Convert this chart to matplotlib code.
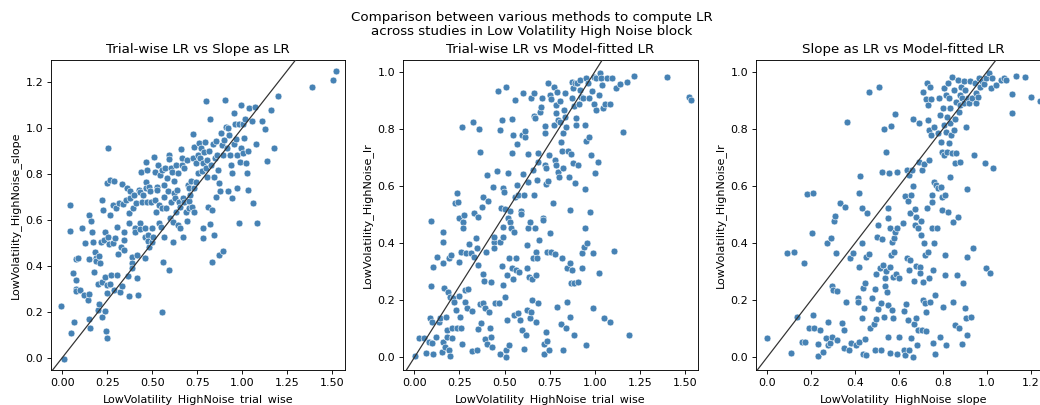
import matplotlib
matplotlib.use("Agg")
import matplotlib.pyplot as plt

# --- data ---
# panel 1: trial-wise LR (x) vs slope as LR (y)
p1_trial_wise = [
    -0.01, 0.007, 0.04, 0.045, 0.05, 0.063, 0.06, 0.074, 0.087, 0.078, 0.078, 0.078, 0.10, 0.11, 0.124,
    0.122, 0.14, 0.148, 0.148, 0.146, 0.156, 0.15, 0.16, 0.163, 0.17, 0.178, 0.183, 0.189, 0.19, 0.196,
    0.196, 0.205, 0.204, 0.211, 0.218, 0.217, 0.22, 0.24, 0.233, 0.228, 0.222, 0.237, 0.24, 0.244, 0.246,
    0.248, 0.248, 0.255, 0.25, 0.254, 0.263, 0.263, 0.261, 0.267, 0.27, 0.285, 0.281, 0.281, 0.285, 0.294,
    0.298, 0.306, 0.304, 0.307, 0.315, 0.318, 0.328, 0.331, 0.333, 0.337, 0.341, 0.344, 0.344, 0.356, 0.36,
    0.365, 0.369, 0.37, 0.37, 0.374, 0.378, 0.385, 0.389, 0.39, 0.393, 0.396, 0.402, 0.406, 0.409, 0.415,
    0.415, 0.419, 0.426, 0.43, 0.43, 0.433, 0.437, 0.443, 0.448, 0.457, 0.459, 0.461, 0.463, 0.467, 0.47,
    0.467, 0.47, 0.474, 0.476, 0.48, 0.483, 0.489, 0.493, 0.496, 0.5, 0.504, 0.511, 0.513, 0.517, 0.52,
    0.524, 0.526, 0.53, 0.535, 0.539, 0.541, 0.546, 0.552, 0.554, 0.556, 0.559, 0.563, 0.565, 0.567, 0.572,
    0.576, 0.581, 0.587, 0.591, 0.594, 0.596, 0.60, 0.604, 0.607, 0.611, 0.615, 0.615, 0.619, 0.622, 0.626,
    0.63, 0.633, 0.637, 0.641, 0.646, 0.648, 0.652, 0.656, 0.659, 0.663, 0.667, 0.669, 0.672, 0.674, 0.678,
    0.685, 0.693, 0.696, 0.698, 0.702, 0.704, 0.707, 0.711, 0.715, 0.719, 0.724, 0.726, 0.73, 0.733, 0.735,
    0.741, 0.744, 0.752, 0.756, 0.761, 0.767, 0.77, 0.776, 0.78, 0.781, 0.785, 0.789, 0.794, 0.798, 0.798,
    0.804, 0.807, 0.811, 0.815, 0.819, 0.822, 0.826, 0.83, 0.833, 0.837, 0.841, 0.844, 0.848, 0.852, 0.856,
    0.859, 0.863, 0.869, 0.874, 0.878, 0.881, 0.887, 0.891, 0.896, 0.90, 0.904, 0.909, 0.915, 0.919, 0.924,
    0.928, 0.933, 0.937, 0.943, 0.946, 0.952, 0.956, 0.961, 0.965, 0.97, 0.974, 0.98, 0.983, 0.989, 0.993,
    0.996, 1.004, 1.007, 1.011, 1.017, 1.022, 1.026, 1.03, 1.033, 1.037, 1.054, 1.063, 1.072, 1.078, 1.085,
    1.109, 1.128, 1.137, 1.159, 1.178, 1.202, 1.391, 1.507, 1.52,
]
p1_slope = [
    0.227, -0.006, 0.663, 0.553, 0.106, 0.157, 0.368, 0.43, 0.433, 0.339, 0.30, 0.29, 0.295, 0.564, 0.498,
    0.273, 0.25, 0.43, 0.277, 0.167, 0.128, 0.62, 0.597, 0.549, 0.505, 0.375, 0.46, 0.433, 0.42, 0.32,
    0.208, 0.232, 0.443, 0.411, 0.179, 0.505, 0.331, 0.203, 0.513, 0.644, 0.686, 0.549, 0.353, 0.116, 0.087,
    0.763, 0.28, 0.915, 0.317, 0.527, 0.772, 0.622, 0.494, 0.32, 0.36, 0.77, 0.663, 0.498, 0.295, 0.52,
    0.651, 0.571, 0.36, 0.45, 0.673, 0.288, 0.483, 0.755, 0.31, 0.67, 0.549, 0.513, 0.469, 0.687, 0.738,
    0.357, 0.629, 0.586, 0.27, 0.695, 0.726, 0.44, 0.411, 0.389, 0.651, 0.709, 0.564, 0.549, 0.673, 0.349,
    0.447, 0.273, 0.731, 0.721, 0.586, 0.561, 0.811, 0.68, 0.709, 0.433, 0.564, 0.527, 0.767, 0.854, 0.818,
    0.741, 0.68, 0.535, 0.508, 0.484, 0.745, 0.724, 0.68, 0.505, 0.567, 0.527, 0.876, 0.808, 0.686, 0.636,
    0.745, 0.731, 0.84, 0.586, 0.663, 0.796, 0.569, 0.818, 0.654, 0.20, 0.418, 0.527, 0.752, 0.702, 0.826,
    0.651, 0.781, 0.724, 0.883, 0.382, 0.866, 0.607, 0.68, 0.826, 0.811, 0.593, 0.505, 0.718, 0.77, 0.697,
    0.84, 0.636, 0.729, 0.803, 0.578, 0.68, 0.658, 0.564, 0.909, 0.84, 0.869, 0.694, 0.524, 0.826, 0.68,
    0.636, 0.862, 0.596, 0.752, 0.738, 0.684, 0.654, 0.709, 0.77, 0.658, 0.973, 0.869, 0.636, 0.738, 0.92,
    0.847, 0.767, 0.883, 0.803, 0.937, 0.872, 0.912, 0.814, 0.564, 0.523, 0.847, 0.898, 0.941, 0.826, 1.12,
    0.789, 0.862, 0.658, 0.90, 1.04, 0.581, 0.84, 0.644, 0.418, 0.93, 0.535, 0.789, 0.869, 0.702, 0.944,
    0.883, 0.818, 0.447, 0.76, 0.724, 0.978, 0.927, 0.465, 0.883, 0.949, 1.123, 1.007, 0.913, 0.726, 1.002,
    0.97, 0.883, 0.84, 0.803, 0.694, 1.065, 0.93, 1.016, 0.953, 0.738, 0.883, 1.016, 0.586, 0.854, 0.913,
    1.101, 1.016, 0.891, 0.956, 1.042, 0.847, 0.803, 0.731, 0.902, 1.087, 1.029, 0.673, 1.094, 0.93, 0.586,
    1.029, 0.997, 0.857, 1.079, 0.913, 1.138, 1.18, 1.209, 1.247,
]

# panel 2: trial-wise LR (x) vs model-fitted LR (y)
p2_trial_wise = [
    0.004, 0.024, 0.056, 0.065, 0.08, 0.087, 0.093, 0.094, 0.098, 0.098, 0.102, 0.106, 0.12, 0.124, 0.135,
    0.143, 0.154, 0.157, 0.159, 0.159, 0.161, 0.167, 0.17, 0.176, 0.18, 0.181, 0.187, 0.194, 0.194, 0.196,
    0.20, 0.204, 0.207, 0.209, 0.213, 0.222, 0.224, 0.231, 0.235, 0.237, 0.241, 0.246, 0.25, 0.25, 0.254,
    0.256, 0.259, 0.263, 0.265, 0.269, 0.272, 0.274, 0.28, 0.281, 0.287, 0.291, 0.298, 0.302, 0.315, 0.317,
    0.319, 0.324, 0.328, 0.333, 0.339, 0.346, 0.346, 0.35, 0.352, 0.354, 0.356, 0.361, 0.365, 0.372, 0.376,
    0.38, 0.381, 0.383, 0.385, 0.389, 0.393, 0.398, 0.40, 0.402, 0.407, 0.411, 0.417, 0.424, 0.426, 0.431,
    0.435, 0.439, 0.441, 0.443, 0.448, 0.457, 0.463, 0.467, 0.472, 0.476, 0.476, 0.48, 0.483, 0.487, 0.489,
    0.491, 0.493, 0.494, 0.498, 0.50, 0.502, 0.506, 0.507, 0.509, 0.511, 0.513, 0.519, 0.52, 0.522, 0.524,
    0.528, 0.531, 0.535, 0.539, 0.541, 0.543, 0.544, 0.546, 0.55, 0.552, 0.556, 0.557, 0.561, 0.565, 0.567,
    0.569, 0.572, 0.576, 0.58, 0.583, 0.589, 0.593, 0.594, 0.598, 0.602, 0.604, 0.606, 0.609, 0.611, 0.615,
    0.62, 0.622, 0.624, 0.626, 0.628, 0.63, 0.631, 0.635, 0.639, 0.643, 0.646, 0.648, 0.65, 0.654, 0.657,
    0.659, 0.661, 0.663, 0.665, 0.667, 0.669, 0.672, 0.674, 0.676, 0.678, 0.681, 0.683, 0.685, 0.687, 0.689,
    0.694, 0.704, 0.709, 0.713, 0.715, 0.717, 0.719, 0.722, 0.724, 0.726, 0.728, 0.73, 0.731, 0.735, 0.737,
    0.739, 0.741, 0.744, 0.746, 0.75, 0.754, 0.757, 0.759, 0.769, 0.772, 0.776, 0.78, 0.781, 0.783, 0.785,
    0.787, 0.789, 0.793, 0.794, 0.796, 0.80, 0.806, 0.809, 0.811, 0.813, 0.817, 0.82, 0.822, 0.824, 0.826,
    0.83, 0.833, 0.837, 0.839, 0.843, 0.846, 0.848, 0.852, 0.857, 0.861, 0.863, 0.865, 0.867, 0.87, 0.872,
    0.874, 0.876, 0.878, 0.88, 0.883, 0.885, 0.887, 0.891, 0.893, 0.896, 0.898, 0.902, 0.906, 0.909, 0.913,
    0.917, 0.92, 0.924, 0.928, 0.931, 0.935, 0.939, 0.943, 0.944, 0.948, 0.95, 0.952, 0.954, 0.957, 0.963,
    0.967, 0.97, 0.976, 0.981, 0.985, 0.989, 0.991, 0.994, 0.998, 1.002, 1.004, 1.009, 1.015, 1.022, 1.026,
    1.03, 1.035, 1.041, 1.044, 1.05, 1.056, 1.065, 1.083, 1.087, 1.093, 1.106, 1.12, 1.139, 1.157, 1.18,
    1.191, 1.219, 1.402, 1.524, 1.533,
]
p2_lr = [
    0.005, 0.067, 0.069, 0.014, 0.053, 0.137, 0.478, 0.251, 0.125, 0.049, 0.317, 0.011, 0.072, 0.352, 0.125,
    0.137, 0.02, 0.053, 0.44, 0.405, 0.329, 0.242, 0.037, 0.142, 0.096, 0.072, 0.23, 0.349, 0.026, 0.21,
    0.006, 0.358, 0.102, 0.067, 0.207, 0.195, 0.541, 0.166, 0.574, 0.104, 0.545, 0.335, 0.487, 0.216, 0.142,
    0.37, 0.102, 0.805, 0.046, 0.473, 0.454, 0.498, 0.236, 0.195, 0.364, 0.172, 0.238, 0.396, 0.364, 0.163,
    0.022, 0.825, 0.352, 0.504, 0.417, 0.384, 0.026, 0.492, 0.323, 0.098, 0.80, 0.72, 0.186, 0.119, 0.525,
    0.562, 0.191, 0.292, 0.267, 0.064, 0.172, 0.368, 0.638, 0.046, 0.548, 0.16, 0.104, 0.265, 0.072, 0.037,
    0.597, 0.405, 0.422, 0.384, 0.189, 0.654, 0.932, 0.189, 0.405, 0.796, 0.011, 0.524, 0.831, 0.321, 0.592,
    0.253, 0.457, 0.422, 0.578, 0.21, 0.518, 0.026, 0.002, 0.947, 0.131, 0.288, 0.487, 0.644, 0.347, 0.043,
    0.475, 0.512, 0.452, 0.833, 0.716, 0.314, 0.274, 0.778, 0.44, 0.148, 0.562, 0.90, 0.347, 0.306, 0.746,
    0.603, 0.568, 0.154, 0.30, 0.131, 0.513, 0.501, 0.096, 0.778, 0.642, 0.924, 0.568, 0.029, 0.77, 0.792,
    0.078, 0.393, 0.166, 0.312, 0.454, 0.615, 0.711, 0.282, 0.137, 0.475, 0.909, 0.16, 0.201, 0.274, 0.347,
    0.656, 0.846, 0.568, 0.924, 0.838, 0.452, 0.37, 0.125, 0.288, 0.347, 0.621, 0.683, 0.714, 0.189, 0.411,
    0.86, 0.877, 0.907, 0.489, 0.48, 0.046, 0.012, 0.784, 0.811, 0.673, 0.662, 0.606, 0.09, 0.37, 0.057,
    0.617, 0.959, 0.708, 0.026, 0.917, 0.434, 0.905, 0.37, 0.539, 0.947, 0.813, 0.361, 0.691, 0.854, 0.673,
    0.883, 0.177, 0.93, 0.65, 0.831, 0.632, 0.825, 0.897, 0.753, 0.116, 0.722, 0.347, 0.026, 0.786, 0.664,
    0.866, 0.924, 0.843, 0.807, 0.102, 0.312, 0.195, 0.722, 0.632, 0.516, 0.142, 0.329, 0.259, 0.711, 0.306,
    0.965, 0.909, 0.679, 0.942, 0.881, 0.08, 0.259, 0.609, 0.959, 0.813, 0.837, 0.959, 0.265, 0.673, 0.886,
    0.971, 0.935, 0.912, 0.312, 0.364, 0.907, 0.387, 0.813, 0.589, 0.454, 0.043, 0.757, 0.979, 0.399, 0.959,
    0.907, 0.772, 0.51, 0.708, 0.932, 0.364, 0.172, 0.982, 0.886, 0.644, 0.866, 0.979, 0.685, 0.918, 0.294,
    0.994, 0.977, 0.953, 0.872, 0.137, 0.886, 0.979, 0.886, 0.125, 0.979, 0.372, 0.942, 0.956, 0.79, 0.963,
    0.078, 0.986, 0.982, 0.912, 0.901,
]

# panel 3: slope as LR (x) vs model-fitted LR (y)
p3_slope = [
    0.0, 0.091, 0.111, 0.124, 0.136, 0.159, 0.17, 0.174, 0.182, 0.189, 0.205, 0.208, 0.209, 0.212, 0.23,
    0.232, 0.242, 0.255, 0.27, 0.273, 0.276, 0.277, 0.285, 0.291, 0.295, 0.295, 0.30, 0.306, 0.308, 0.312,
    0.318, 0.318, 0.333, 0.341, 0.348, 0.352, 0.356, 0.361, 0.364, 0.371, 0.376, 0.382, 0.391, 0.406, 0.412,
    0.414, 0.417, 0.417, 0.42, 0.421, 0.43, 0.433, 0.433, 0.436, 0.436, 0.441, 0.444, 0.447, 0.45, 0.452,
    0.456, 0.464, 0.467, 0.465, 0.479, 0.485, 0.489, 0.492, 0.495, 0.497, 0.50, 0.503, 0.506, 0.509, 0.512,
    0.518, 0.52, 0.523, 0.524, 0.527, 0.53, 0.533, 0.535, 0.538, 0.539, 0.542, 0.545, 0.548, 0.548, 0.55,
    0.552, 0.555, 0.558, 0.559, 0.561, 0.562, 0.564, 0.567, 0.568, 0.571, 0.574, 0.576, 0.579, 0.582, 0.583,
    0.586, 0.589, 0.591, 0.592, 0.598, 0.602, 0.618, 0.621, 0.623, 0.626, 0.629, 0.632, 0.635, 0.638, 0.639,
    0.642, 0.644, 0.645, 0.647, 0.648, 0.652, 0.653, 0.655, 0.658, 0.662, 0.664, 0.665, 0.667, 0.668, 0.671,
    0.674, 0.676, 0.677, 0.679, 0.682, 0.685, 0.686, 0.689, 0.691, 0.694, 0.697, 0.70, 0.702, 0.705, 0.706,
    0.708, 0.709, 0.711, 0.712, 0.715, 0.717, 0.72, 0.721, 0.723, 0.724, 0.726, 0.727, 0.73, 0.732, 0.733,
    0.735, 0.736, 0.738, 0.739, 0.742, 0.745, 0.747, 0.748, 0.75, 0.752, 0.753, 0.755, 0.758, 0.759, 0.761,
    0.762, 0.765, 0.77, 0.773, 0.776, 0.779, 0.782, 0.785, 0.788, 0.789, 0.792, 0.794, 0.795, 0.797, 0.80,
    0.80, 0.803, 0.805, 0.806, 0.808, 0.809, 0.811, 0.812, 0.814, 0.815, 0.818, 0.82, 0.821, 0.823, 0.826,
    0.827, 0.83, 0.832, 0.833, 0.836, 0.839, 0.842, 0.845, 0.847, 0.848, 0.85, 0.853, 0.855, 0.856, 0.859,
    0.861, 0.864, 0.867, 0.868, 0.871, 0.873, 0.876, 0.877, 0.879, 0.883, 0.886, 0.888, 0.891, 0.894, 0.897,
    0.90, 0.902, 0.903, 0.906, 0.908, 0.909, 0.911, 0.914, 0.918, 0.924, 0.927, 0.932, 0.936, 0.939, 0.944,
    0.948, 0.952, 0.958, 0.964, 0.97, 0.977, 0.985, 0.992, 0.994, 0.997, 1.008, 1.015, 1.02, 1.023, 1.027,
    1.042, 1.064, 1.079, 1.088, 1.114, 1.114, 1.133, 1.171, 1.20, 1.239,
]
p3_lr = [
    0.067, 0.366, 0.014, 0.37, 0.142, 0.053, 0.329, 0.053, 0.571, 0.102, 0.434, 0.574, 0.148, 0.102, 0.005,
    0.046, 0.096, 0.02, 0.067, 0.401, 0.125, 0.043, 0.049, 0.417, 0.251, 0.072, 0.236, 0.478, 0.496, 0.366,
    0.232, 0.061, 0.541, 0.119, 0.034, 0.096, 0.525, 0.195, 0.825, 0.026, 0.347, 0.049, 0.366, 0.043, 0.209,
    0.195, 0.317, 0.053, 0.576, 0.636, 0.401, 0.522, 0.137, 0.242, 0.011, 0.172, 0.064, 0.259, 0.352, 0.008,
    0.506, 0.361, 0.102, 0.928, 0.209, 0.116, 0.026, 0.238, 0.133, 0.292, 0.42, 0.169, 0.463, 0.947, 0.312,
    0.026, 0.189, 0.648, 0.413, 0.323, 0.80, 0.142, 0.25, 0.277, 0.72, 0.302, 0.23, 0.489, 0.524, 0.07,
    0.183, 0.644, 0.454, 0.014, 0.317, 0.358, 0.811, 0.166, 0.405, 0.137, 0.282, 0.419, 0.37, 0.851, 0.438,
    0.291, 0.648, 0.454, 0.011, 0.072, 0.277, 0.469, 0.026, 0.162, 0.566, 0.008, 0.186, 0.656, 0.347, 0.131,
    0.547, 0.306, 0.638, 0.026, 0.506, 0.341, 0.067, 0.568, 0.656, 0.834, 0.601, 0.002, 0.116, 0.267, 0.463,
    0.519, 0.321, 0.137, 0.492, 0.043, 0.454, 0.096, 0.683, 0.819, 0.317, 0.294, 0.477, 0.428, 0.656, 0.096,
    0.202, 0.265, 0.93, 0.399, 0.676, 0.189, 0.358, 0.16, 0.092, 0.904, 0.522, 0.959, 0.831, 0.37, 0.883,
    0.691, 0.277, 0.796, 0.195, 0.947, 0.778, 0.903, 0.568, 0.452, 0.545, 0.049, 0.306, 0.807, 0.401, 0.615,
    0.218, 0.011, 0.603, 0.454, 0.592, 0.784, 0.907, 0.072, 0.848, 0.755, 0.598, 0.562, 0.516, 0.72, 0.177,
    0.872, 0.708, 0.942, 0.813, 0.568, 0.288, 0.358, 0.043, 0.79, 0.918, 0.842, 0.72, 0.51, 0.962, 0.749,
    0.907, 0.819, 0.632, 0.872, 0.778, 0.714, 0.982, 0.195, 0.475, 0.935, 0.796, 0.679, 0.113, 0.834, 0.714,
    0.895, 0.288, 0.493, 0.971, 0.86, 0.102, 0.685, 0.918, 0.883, 0.947, 0.046, 0.907, 0.261, 0.967, 0.889,
    0.172, 0.935, 0.137, 0.807, 0.352, 0.589, 0.078, 0.907, 0.889, 0.967, 0.142, 0.907, 0.384, 0.708, 0.962,
    0.889, 0.924, 0.912, 0.977, 0.947, 0.967, 0.956, 0.679, 0.312, 0.977, 0.994, 0.294, 0.942, 0.979, 0.662,
    0.952, 0.971, 0.979, 0.971, 0.921, 0.854, 0.986, 0.982, 0.91, 0.898,
]

titles = ["Trial-wise LR vs Slope as LR", "Trial-wise LR vs Model-fitted LR", "Slope as LR vs Model-fitted LR"]
xlabels = ["LowVolatility_HighNoise_trial_wise", "LowVolatility_HighNoise_trial_wise", "LowVolatility_HighNoise_slope"]
ylabels = ["LowVolatility_HighNoise_slope", "LowVolatility_HighNoise_lr", "LowVolatility_HighNoise_lr"]

W, H = 1040, 405
DPI = 80
fig = plt.figure(figsize=(W / DPI, H / DPI), dpi=DPI)


def box(left, right, top, bottom):
    # pixel box -> figure fraction
    return [left / W, (H - bottom) / H, (right - left) / W, (bottom - top) / H]


axes = [
    fig.add_axes(box(51, 345, 60, 370)),
    fig.add_axes(box(403, 698, 60, 370)),
    fig.add_axes(box(756, 1051, 60, 370)),
]
data = [(p1_trial_wise, p1_slope), (p2_trial_wise, p2_lr), (p3_slope, p3_lr)]
xlims = [(-0.063, 1.572), (-0.063, 1.572), (-0.05, 1.291)]
ylims = [(-0.054, 1.297), (-0.044, 1.041), (-0.044, 1.041)]

for ax, (x, y), t, xl, yl, xlim, ylim in zip(axes, data, titles, xlabels, ylabels, xlims, ylims):
    ax.scatter(x, y, s=38, color="steelblue", edgecolors="white", linewidths=0.5, zorder=2)
    ax.axline((0, 0), (1, 1), color="#333333", lw=1.1, zorder=3)
    ax.set_xlim(*xlim)
    ax.set_ylim(*ylim)
    ax.set_title(t, fontsize=12)
    ax.set_xlabel(xl, fontsize=10, labelpad=6)
    ax.set_ylabel(yl, fontsize=10)
    ax.tick_params(labelsize=10)

axes[0].set_xticks([0, 0.25, 0.5, 0.75, 1.0, 1.25, 1.5])
axes[1].set_xticks([0, 0.25, 0.5, 0.75, 1.0, 1.25, 1.5])

fig.text(532 / W, 1 - 11 / H,
         "Comparison between various methods to compute LR\nacross studies in Low Volatility High Noise block",
         ha="center", va="top", fontsize=12, linespacing=1.1)

fig.savefig("out.png", dpi=DPI)
